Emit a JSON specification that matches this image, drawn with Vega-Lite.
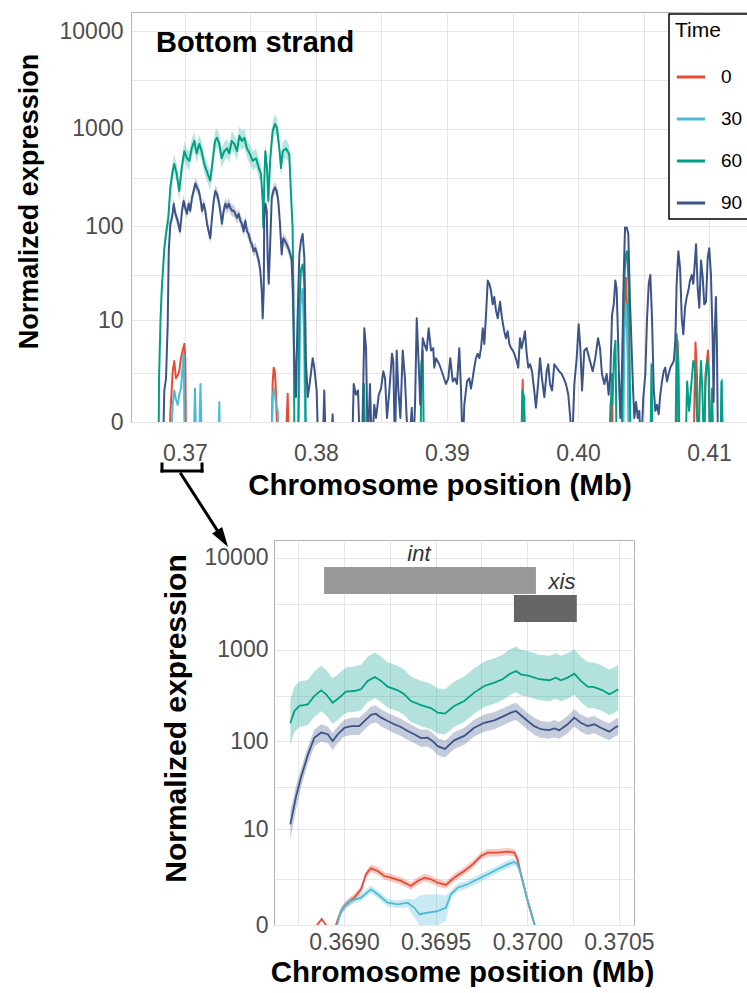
{
"$schema":"https://vega.github.io/schema/vega-lite/v6.json",
"background":"white",
"padding":{"left":14,"top":11,"right":0,"bottom":0},
"bounds":"flush",
"spacing":118,
"config":{
 "font":"Liberation Sans",
 "view":{"stroke":"#B3B3B3","strokeWidth":1},
 "axis":{"grid":true,"gridColor":"#E6E6E6","gridWidth":1,"domain":false,"ticks":false,"labelFont":"Liberation Sans","labelFontSize":23,"labelColor":"#4D4D4D","labelOverlap":false,"titleFont":"Liberation Sans","titleFontSize":29.5,"titleFontWeight":"bold","titleColor":"#000000"},
 "legend":{"strokeColor":"#000000","strokeWidth":1.5,"fillColor":"#FFFFFF","padding":6,"cornerRadius":0,"titleFont":"Liberation Sans","titleFontSize":21,"titleFontWeight":"normal","titleColor":"#000000","titlePadding":20,"labelFont":"Liberation Sans","labelFontSize":19,"labelColor":"#000000","labelOffset":14,"symbolType":"stroke","symbolStrokeWidth":3,"symbolSize":800,"symbolOpacity":1,"rowPadding":16}
},
"resolve":{"scale":{"x":"independent","y":"independent","color":"independent"},"legend":{"color":"independent"}},
"datasets":{
"top":[
{"p":0.36882,"t":"0","v":-1},{"p":0.36888,"t":"0","v":0.2},{"p":0.36906,"t":"0","v":2.3},{"p":0.36918,"t":"0","v":3.2},{"p":0.36931,"t":"0","v":1.8},{"p":0.36944,"t":"0","v":2},{"p":0.36956,"t":"0","v":2.3},{"p":0.36969,"t":"0","v":3.5},{"p":0.36982,"t":"0","v":4.4},{"p":0.36995,"t":"0","v":5.3},{"p":0.37002,"t":"0","v":3.5},{"p":0.37008,"t":"0","v":-1},
{"p":0.3766,"t":"0","v":-1},{"p":0.37669,"t":"0","v":1.5},{"p":0.37677,"t":"0","v":2.6},{"p":0.37686,"t":"0","v":2.3},{"p":0.37695,"t":"0","v":1},{"p":0.37708,"t":"0","v":-1},
{"p":0.37767,"t":"0","v":-1},{"p":0.37784,"t":"0","v":0.95},{"p":0.37794,"t":"0","v":-1},
{"p":0.39569,"t":"0","v":-1},{"p":0.39578,"t":"0","v":1.7},{"p":0.39584,"t":"0","v":-1},
{"p":0.40237,"t":"0","v":-1},{"p":0.40248,"t":"0","v":0.5},{"p":0.4026,"t":"0","v":0.9},{"p":0.40267,"t":"0","v":-1},
{"p":0.40332,"t":"0","v":-1},{"p":0.40355,"t":"0","v":15},{"p":0.40366,"t":"0","v":29},{"p":0.40378,"t":"0","v":10},{"p":0.40389,"t":"0","v":-1},
{"p":0.40752,"t":"0","v":-1},{"p":0.4076,"t":"0","v":5.8},{"p":0.40767,"t":"0","v":3},{"p":0.40775,"t":"0","v":-1},
{"p":0.40882,"t":"0","v":-1},{"p":0.40897,"t":"0","v":5.5},{"p":0.40908,"t":"0","v":2},{"p":0.4092,"t":"0","v":-1},
{"p":0.40962,"t":"0","v":-1},{"p":0.40973,"t":"0","v":2},{"p":0.40992,"t":"0","v":4.4},{"p":0.41,"t":"0","v":2},{"p":0.41008,"t":"0","v":-1},
{"p":0.36893,"t":"30","v":-1},{"p":0.36906,"t":"30","v":0.5},{"p":0.36918,"t":"30","v":1.1},{"p":0.36931,"t":"30","v":0.7},{"p":0.36944,"t":"30","v":0.5},{"p":0.36956,"t":"30","v":0.9},{"p":0.36969,"t":"30","v":1.2},{"p":0.3699,"t":"30","v":4},{"p":0.36998,"t":"30","v":-1},
{"p":0.37065,"t":"30","v":-1},{"p":0.37076,"t":"30","v":1.2},{"p":0.37088,"t":"30","v":-1},
{"p":0.37107,"t":"30","v":-1},{"p":0.37118,"t":"30","v":1.45},{"p":0.3713,"t":"30","v":-1},
{"p":0.37256,"t":"30","v":-1},{"p":0.37262,"t":"30","v":0.6},{"p":0.37267,"t":"30","v":-1},
{"p":0.3766,"t":"30","v":-1},{"p":0.37669,"t":"30","v":0.8},{"p":0.37682,"t":"30","v":1.2},{"p":0.37695,"t":"30","v":0.5},{"p":0.37708,"t":"30","v":0.3},{"p":0.37718,"t":"30","v":-1},
{"p":0.37863,"t":"30","v":-1},{"p":0.37882,"t":"30","v":15},{"p":0.37897,"t":"30","v":22},{"p":0.37908,"t":"30","v":8},{"p":0.3792,"t":"30","v":-1},
{"p":0.40344,"t":"30","v":-1},{"p":0.40355,"t":"30","v":8},{"p":0.40366,"t":"30","v":15},{"p":0.40378,"t":"30","v":5},{"p":0.40389,"t":"30","v":-1},
{"p":0.41088,"t":"30","v":-1},{"p":0.41099,"t":"30","v":1.7},{"p":0.41107,"t":"30","v":-1},
{"p":0.36798,"t":"60","v":-1},{"p":0.36802,"t":"60","v":1.8},{"p":0.36813,"t":"60","v":10,"lo":8,"hi":12.5},{"p":0.36822,"t":"60","v":21,"lo":17,"hi":26},{"p":0.36832,"t":"60","v":35,"lo":28,"hi":44},{"p":0.36842,"t":"60","v":59,"lo":47,"hi":74},{"p":0.36855,"t":"60","v":83,"lo":66,"hi":104},{"p":0.36873,"t":"60","v":122,"lo":98,"hi":152},{"p":0.36888,"t":"60","v":250,"lo":200,"hi":312},{"p":0.36906,"t":"60","v":370,"lo":296,"hi":462},{"p":0.36918,"t":"60","v":437,"lo":350,"hi":546},{"p":0.36937,"t":"60","v":346,"lo":277,"hi":432},{"p":0.36956,"t":"60","v":230,"lo":184,"hi":288},{"p":0.36975,"t":"60","v":397,"lo":318,"hi":496},{"p":0.36995,"t":"60","v":590,"lo":472,"hi":738},{"p":0.37015,"t":"60","v":500,"lo":400,"hi":625},{"p":0.37033,"t":"60","v":470,"lo":376,"hi":588},{"p":0.37051,"t":"60","v":630,"lo":504,"hi":788},{"p":0.37071,"t":"60","v":750,"lo":600,"hi":938},{"p":0.37089,"t":"60","v":560,"lo":448,"hi":700},{"p":0.37109,"t":"60","v":700,"lo":560,"hi":875},{"p":0.37127,"t":"60","v":590,"lo":472,"hi":738},{"p":0.37147,"t":"60","v":437,"lo":350,"hi":546},{"p":0.37173,"t":"60","v":346,"lo":277,"hi":432},{"p":0.37193,"t":"60","v":295,"lo":236,"hi":369},{"p":0.37211,"t":"60","v":470,"lo":376,"hi":588},{"p":0.37229,"t":"60","v":750,"lo":600,"hi":938},{"p":0.37244,"t":"60","v":810,"lo":648,"hi":1012},{"p":0.37262,"t":"60","v":700,"lo":560,"hi":875},{"p":0.3728,"t":"60","v":500,"lo":400,"hi":625},{"p":0.373,"t":"60","v":590,"lo":472,"hi":738},{"p":0.37321,"t":"60","v":630,"lo":504,"hi":788},{"p":0.37338,"t":"60","v":560,"lo":448,"hi":700},{"p":0.37356,"t":"60","v":750,"lo":600,"hi":938},{"p":0.37376,"t":"60","v":700,"lo":560,"hi":875},{"p":0.37397,"t":"60","v":590,"lo":472,"hi":738},{"p":0.37415,"t":"60","v":850,"lo":680,"hi":1062},{"p":0.37435,"t":"60","v":750,"lo":600,"hi":938},{"p":0.37453,"t":"60","v":810,"lo":648,"hi":1012},{"p":0.37473,"t":"60","v":630,"lo":504,"hi":788},{"p":0.37496,"t":"60","v":550,"lo":440,"hi":688},{"p":0.37517,"t":"60","v":470,"lo":376,"hi":588},{"p":0.37542,"t":"60","v":500,"lo":400,"hi":625},{"p":0.37563,"t":"60","v":397,"lo":318,"hi":496},{"p":0.3758,"t":"60","v":346,"lo":277,"hi":432},{"p":0.37593,"t":"60","v":182,"lo":146,"hi":228},{"p":0.37598,"t":"60","v":97,"lo":78,"hi":121},{"p":0.37605,"t":"60","v":275,"lo":220,"hi":344},{"p":0.37613,"t":"60","v":590,"lo":472,"hi":738},{"p":0.37626,"t":"60","v":397,"lo":318,"hi":496},{"p":0.37636,"t":"60","v":182,"lo":146,"hi":228},{"p":0.37651,"t":"60","v":500,"lo":400,"hi":625},{"p":0.37669,"t":"60","v":950,"lo":760,"hi":1188},{"p":0.37687,"t":"60","v":1120,"lo":896,"hi":1400},{"p":0.37702,"t":"60","v":1020,"lo":816,"hi":1275},{"p":0.3772,"t":"60","v":630,"lo":504,"hi":788},{"p":0.37733,"t":"60","v":397,"lo":318,"hi":496},{"p":0.37746,"t":"60","v":590,"lo":472,"hi":738},{"p":0.37771,"t":"60","v":630,"lo":504,"hi":788},{"p":0.37796,"t":"60","v":550,"lo":440,"hi":688},{"p":0.37809,"t":"60","v":215,"lo":172,"hi":269},{"p":0.37821,"t":"60","v":100},{"p":0.37828,"t":"60","v":20},{"p":0.37836,"t":"60","v":-1},{"p":0.37863,"t":"60","v":-1},{"p":0.37873,"t":"60","v":15},{"p":0.37885,"t":"60","v":35},{"p":0.37898,"t":"60","v":40},{"p":0.37911,"t":"60","v":25},{"p":0.37924,"t":"60","v":-1},
{"p":0.38355,"t":"60","v":-1},{"p":0.38366,"t":"60","v":1.45},{"p":0.38378,"t":"60","v":-1},
{"p":0.38798,"t":"60","v":-1},{"p":0.38805,"t":"60","v":3},{"p":0.38815,"t":"60","v":4.4},{"p":0.38824,"t":"60","v":-1},
{"p":0.39565,"t":"60","v":-1},{"p":0.39576,"t":"60","v":1.1},{"p":0.39588,"t":"60","v":0.8},{"p":0.39599,"t":"60","v":-1},
{"p":0.40248,"t":"60","v":-1},{"p":0.40256,"t":"60","v":2.1},{"p":0.40263,"t":"60","v":0.5},{"p":0.40275,"t":"60","v":4},{"p":0.40286,"t":"60","v":5.8},{"p":0.40295,"t":"60","v":-1},
{"p":0.40332,"t":"60","v":-1},{"p":0.40349,"t":"60","v":20},{"p":0.40363,"t":"60","v":50},{"p":0.40374,"t":"60","v":55},{"p":0.40389,"t":"60","v":20},{"p":0.40401,"t":"60","v":-1},
{"p":0.40553,"t":"60","v":-1},{"p":0.40561,"t":"60","v":2.9},{"p":0.4057,"t":"60","v":-1},
{"p":0.40744,"t":"60","v":-1},{"p":0.40753,"t":"60","v":6.9},{"p":0.40763,"t":"60","v":3},{"p":0.40771,"t":"60","v":-1},
{"p":0.40821,"t":"60","v":-1},{"p":0.40833,"t":"60","v":1.6},{"p":0.40848,"t":"60","v":0.3},{"p":0.40866,"t":"60","v":1.5},{"p":0.4088,"t":"60","v":3.2},{"p":0.40893,"t":"60","v":2.5},{"p":0.40905,"t":"60","v":0.5},{"p":0.4092,"t":"60","v":-1},{"p":0.40931,"t":"60","v":1.5},{"p":0.40939,"t":"60","v":3.2},{"p":0.4095,"t":"60","v":1},{"p":0.40962,"t":"60","v":-1},{"p":0.40973,"t":"60","v":1.5},{"p":0.40985,"t":"60","v":3.2},{"p":0.40996,"t":"60","v":2.5},{"p":0.41008,"t":"60","v":-1},{"p":0.41023,"t":"60","v":1.2},{"p":0.41034,"t":"60","v":-1},
{"p":0.41088,"t":"60","v":-1},{"p":0.41095,"t":"60","v":1.6},{"p":0.41105,"t":"60","v":-1},
{"p":0.36832,"t":"90","v":-1},{"p":0.36842,"t":"90","v":1.1},{"p":0.36855,"t":"90","v":1.8},{"p":0.36868,"t":"90","v":9},{"p":0.36876,"t":"90","v":55,"lo":48,"hi":63},{"p":0.36888,"t":"90","v":106,"lo":92,"hi":122},{"p":0.36901,"t":"90","v":122,"lo":106,"hi":140},{"p":0.36914,"t":"90","v":170,"lo":148,"hi":196},{"p":0.36926,"t":"90","v":134,"lo":117,"hi":154},{"p":0.36944,"t":"90","v":114,"lo":99,"hi":131},{"p":0.36962,"t":"90","v":88,"lo":77,"hi":101},{"p":0.36977,"t":"90","v":144,"lo":125,"hi":166},{"p":0.3699,"t":"90","v":182,"lo":158,"hi":209},{"p":0.37002,"t":"90","v":154,"lo":134,"hi":177},{"p":0.37015,"t":"90","v":134,"lo":117,"hi":154},{"p":0.37028,"t":"90","v":170,"lo":148,"hi":196},{"p":0.3704,"t":"90","v":144,"lo":125,"hi":166},{"p":0.37053,"t":"90","v":195,"lo":170,"hi":224},{"p":0.37066,"t":"90","v":230,"lo":200,"hi":264},{"p":0.37079,"t":"90","v":275,"lo":239,"hi":316},{"p":0.37092,"t":"90","v":250,"lo":218,"hi":288},{"p":0.37105,"t":"90","v":230,"lo":200,"hi":264},{"p":0.37117,"t":"90","v":195,"lo":170,"hi":224},{"p":0.3713,"t":"90","v":144,"lo":125,"hi":166},{"p":0.37143,"t":"90","v":170,"lo":148,"hi":196},{"p":0.37155,"t":"90","v":144,"lo":125,"hi":166},{"p":0.37168,"t":"90","v":106,"lo":92,"hi":122},{"p":0.37181,"t":"90","v":88,"lo":77,"hi":101},{"p":0.37193,"t":"90","v":75,"lo":65,"hi":86},{"p":0.37206,"t":"90","v":122,"lo":106,"hi":140},{"p":0.37219,"t":"90","v":182,"lo":158,"hi":209},{"p":0.37231,"t":"90","v":230,"lo":200,"hi":264},{"p":0.37244,"t":"90","v":215,"lo":187,"hi":247},{"p":0.37257,"t":"90","v":182,"lo":158,"hi":209},{"p":0.37269,"t":"90","v":144,"lo":125,"hi":166},{"p":0.37282,"t":"90","v":106,"lo":92,"hi":122},{"p":0.37295,"t":"90","v":144,"lo":125,"hi":166},{"p":0.37308,"t":"90","v":170,"lo":148,"hi":196},{"p":0.37321,"t":"90","v":154,"lo":134,"hi":177},{"p":0.37334,"t":"90","v":170,"lo":148,"hi":196},{"p":0.37346,"t":"90","v":154,"lo":134,"hi":177},{"p":0.37359,"t":"90","v":144,"lo":125,"hi":166},{"p":0.37372,"t":"90","v":144,"lo":125,"hi":166},{"p":0.37384,"t":"90","v":134,"lo":117,"hi":154},{"p":0.37397,"t":"90","v":122,"lo":106,"hi":140},{"p":0.3741,"t":"90","v":134,"lo":117,"hi":154},{"p":0.37422,"t":"90","v":114,"lo":99,"hi":131},{"p":0.37435,"t":"90","v":106,"lo":92,"hi":122},{"p":0.37448,"t":"90","v":88,"lo":77,"hi":101},{"p":0.3746,"t":"90","v":114,"lo":99,"hi":131},{"p":0.37473,"t":"90","v":88,"lo":77,"hi":101},{"p":0.37486,"t":"90","v":83,"lo":72,"hi":95},{"p":0.37498,"t":"90","v":70,"lo":61,"hi":80},{"p":0.37511,"t":"90","v":65,"lo":57,"hi":75},{"p":0.37524,"t":"90","v":55,"lo":48,"hi":63},{"p":0.37537,"t":"90","v":59,"lo":51,"hi":68},{"p":0.3755,"t":"90","v":51,"lo":44,"hi":59},{"p":0.37563,"t":"90","v":44,"lo":38,"hi":51},{"p":0.37575,"t":"90","v":34,"lo":30,"hi":39},{"p":0.37586,"t":"90","v":21,"lo":18,"hi":24},{"p":0.37593,"t":"90","v":10.5,"lo":9,"hi":12},{"p":0.37601,"t":"90","v":21,"lo":18,"hi":24},{"p":0.37605,"t":"90","v":122,"lo":106,"hi":140},{"p":0.37613,"t":"90","v":170,"lo":148,"hi":196},{"p":0.37624,"t":"90","v":144,"lo":125,"hi":166},{"p":0.37631,"t":"90","v":47,"lo":41,"hi":54},{"p":0.37639,"t":"90","v":25,"lo":22,"hi":29},{"p":0.37651,"t":"90","v":70,"lo":61,"hi":80},{"p":0.37662,"t":"90","v":195,"lo":170,"hi":224},{"p":0.37674,"t":"90","v":230,"lo":200,"hi":264},{"p":0.37687,"t":"90","v":250,"lo":218,"hi":288},{"p":0.377,"t":"90","v":230,"lo":200,"hi":264},{"p":0.37712,"t":"90","v":182,"lo":158,"hi":209},{"p":0.37725,"t":"90","v":106,"lo":92,"hi":122},{"p":0.37738,"t":"90","v":51,"lo":44,"hi":59},{"p":0.3775,"t":"90","v":75,"lo":65,"hi":86},{"p":0.37763,"t":"90","v":70,"lo":61,"hi":80},{"p":0.37776,"t":"90","v":65,"lo":57,"hi":75},{"p":0.37789,"t":"90","v":59,"lo":51,"hi":68},{"p":0.37804,"t":"90","v":51,"lo":44,"hi":59},{"p":0.37813,"t":"90","v":45,"lo":39,"hi":52},{"p":0.37822,"t":"90","v":22},{"p":0.37832,"t":"90","v":5},{"p":0.37847,"t":"90","v":0.8},{"p":0.37859,"t":"90","v":10},{"p":0.37873,"t":"90","v":51},{"p":0.37885,"t":"90","v":70},{"p":0.37898,"t":"90","v":83},{"p":0.37911,"t":"90","v":47},{"p":0.37924,"t":"90","v":2.9},{"p":0.37937,"t":"90","v":0.8},{"p":0.37954,"t":"90","v":1.6},{"p":0.37975,"t":"90","v":3.5},{"p":0.37987,"t":"90","v":2.6},{"p":0.38005,"t":"90","v":1.1},{"p":0.38018,"t":"90","v":-1},{"p":0.38051,"t":"90","v":-1},{"p":0.38063,"t":"90","v":1.1},{"p":0.38076,"t":"90","v":-1},{"p":0.38115,"t":"90","v":-1},{"p":0.38127,"t":"90","v":0.2},{"p":0.38137,"t":"90","v":-1},{"p":0.38275,"t":"90","v":-1},{"p":0.38288,"t":"90","v":1.45},{"p":0.38305,"t":"90","v":0.9},{"p":0.38321,"t":"90","v":1.1},{"p":0.38336,"t":"90","v":-1},{"p":0.38351,"t":"90","v":-1},{"p":0.38369,"t":"90","v":8.1},{"p":0.38382,"t":"90","v":4.7},{"p":0.38395,"t":"90","v":-1},{"p":0.38412,"t":"90","v":1.45},{"p":0.38427,"t":"90","v":-1},{"p":0.38445,"t":"90","v":0.5},{"p":0.38458,"t":"90","v":0.1},{"p":0.38479,"t":"90","v":0.9},{"p":0.38496,"t":"90","v":1.2},{"p":0.38514,"t":"90","v":2.3},{"p":0.38527,"t":"90","v":1.8},{"p":0.38542,"t":"90","v":0.1},{"p":0.3856,"t":"90","v":1.1},{"p":0.3858,"t":"90","v":4},{"p":0.3859,"t":"90","v":3.2},{"p":0.38603,"t":"90","v":-1},{"p":0.38616,"t":"90","v":4.4},{"p":0.38628,"t":"90","v":1.2},{"p":0.38644,"t":"90","v":0.1},{"p":0.38662,"t":"90","v":4.4},{"p":0.38679,"t":"90","v":1.8},{"p":0.38692,"t":"90","v":0.1},{"p":0.3871,"t":"90","v":-1},{"p":0.38731,"t":"90","v":0.4},{"p":0.38743,"t":"90","v":-1},{"p":0.38756,"t":"90","v":0.5},{"p":0.38769,"t":"90","v":10.5},{"p":0.38784,"t":"90","v":2.9},{"p":0.38796,"t":"90","v":0.5},{"p":0.38815,"t":"90","v":6.2},{"p":0.38827,"t":"90","v":5.3},{"p":0.38845,"t":"90","v":4.4},{"p":0.3886,"t":"90","v":8.1},{"p":0.38878,"t":"90","v":4.4},{"p":0.38895,"t":"90","v":4.7},{"p":0.38903,"t":"90","v":2.6},{"p":0.38916,"t":"90","v":3.5},{"p":0.38941,"t":"90","v":2.9},{"p":0.38967,"t":"90","v":2.1},{"p":0.38992,"t":"90","v":1.45},{"p":0.3901,"t":"90","v":1.8},{"p":0.39025,"t":"90","v":3.5},{"p":0.39044,"t":"90","v":1.6},{"p":0.39061,"t":"90","v":1.8},{"p":0.39076,"t":"90","v":1.45},{"p":0.39094,"t":"90","v":4.7},{"p":0.39107,"t":"90","v":1.1},{"p":0.3912,"t":"90","v":-1},{"p":0.39132,"t":"90","v":0.5},{"p":0.39153,"t":"90","v":1.6},{"p":0.3917,"t":"90","v":1.8},{"p":0.39183,"t":"90","v":1.2},{"p":0.39196,"t":"90","v":1.8},{"p":0.39208,"t":"90","v":2.6},{"p":0.39221,"t":"90","v":3.5},{"p":0.39234,"t":"90","v":4},{"p":0.39247,"t":"90","v":3.5},{"p":0.3926,"t":"90","v":4.7},{"p":0.39273,"t":"90","v":8.1},{"p":0.39285,"t":"90","v":5.3},{"p":0.39298,"t":"90","v":11.6},{"p":0.39311,"t":"90","v":27},{"p":0.39323,"t":"90","v":25},{"p":0.39336,"t":"90","v":21},{"p":0.39349,"t":"90","v":15},{"p":0.39361,"t":"90","v":18},{"p":0.39374,"t":"90","v":12.8},{"p":0.39387,"t":"90","v":10.5},{"p":0.39405,"t":"90","v":16},{"p":0.3942,"t":"90","v":10.5},{"p":0.39437,"t":"90","v":7.5},{"p":0.3945,"t":"90","v":6.2},{"p":0.39463,"t":"90","v":7.5},{"p":0.39476,"t":"90","v":5.3},{"p":0.39489,"t":"90","v":4.7},{"p":0.39502,"t":"90","v":4.4},{"p":0.39514,"t":"90","v":4},{"p":0.39532,"t":"90","v":3.2},{"p":0.39544,"t":"90","v":2.6},{"p":0.39557,"t":"90","v":6.2},{"p":0.3957,"t":"90","v":4.7},{"p":0.39582,"t":"90","v":5.8},{"p":0.39595,"t":"90","v":7.5},{"p":0.39608,"t":"90","v":4},{"p":0.39621,"t":"90","v":2.6},{"p":0.39634,"t":"90","v":2.9},{"p":0.39649,"t":"90","v":2.3},{"p":0.39666,"t":"90","v":1.1},{"p":0.39679,"t":"90","v":0.4},{"p":0.39697,"t":"90","v":1.6},{"p":0.3971,"t":"90","v":3.5},{"p":0.39725,"t":"90","v":1.8},{"p":0.39743,"t":"90","v":0.8},{"p":0.39761,"t":"90","v":2.3},{"p":0.39773,"t":"90","v":2.9},{"p":0.39786,"t":"90","v":1.45},{"p":0.39802,"t":"90","v":1.1},{"p":0.39819,"t":"90","v":2.9},{"p":0.39837,"t":"90","v":2.6},{"p":0.39857,"t":"90","v":2.3},{"p":0.39876,"t":"90","v":2.1},{"p":0.39891,"t":"90","v":1.8},{"p":0.39908,"t":"90","v":1.45},{"p":0.39926,"t":"90","v":0.9},{"p":0.39941,"t":"90","v":0.1},{"p":0.39954,"t":"90","v":-1},{"p":0.39972,"t":"90","v":1.45},{"p":0.3999,"t":"90","v":3.5},{"p":0.40005,"t":"90","v":9},{"p":0.40018,"t":"90","v":4.7},{"p":0.40031,"t":"90","v":1.1},{"p":0.40048,"t":"90","v":4.4},{"p":0.40066,"t":"90","v":4.7},{"p":0.40086,"t":"90","v":3.5},{"p":0.40112,"t":"90","v":2.3},{"p":0.40132,"t":"90","v":3.5},{"p":0.40153,"t":"90","v":6.2},{"p":0.40168,"t":"90","v":4.7},{"p":0.40183,"t":"90","v":2.1},{"p":0.40201,"t":"90","v":1.45},{"p":0.40219,"t":"90","v":2.1},{"p":0.40234,"t":"90","v":0.9},{"p":0.40247,"t":"90","v":2.1},{"p":0.4026,"t":"90","v":11.6},{"p":0.40273,"t":"90","v":15},{"p":0.40285,"t":"90","v":27},{"p":0.40295,"t":"90","v":22},{"p":0.40305,"t":"90","v":6.9},{"p":0.40315,"t":"90","v":1.2},{"p":0.40323,"t":"90","v":0.1},{"p":0.40336,"t":"90","v":2.6},{"p":0.40349,"t":"90","v":31},{"p":0.40359,"t":"90","v":97},{"p":0.40372,"t":"90","v":97},{"p":0.40384,"t":"90","v":83},{"p":0.40397,"t":"90","v":16},{"p":0.4041,"t":"90","v":4.4},{"p":0.4042,"t":"90","v":1.2},{"p":0.4043,"t":"90","v":0.1},{"p":0.40443,"t":"90","v":0.6},{"p":0.40456,"t":"90","v":0.1},{"p":0.40468,"t":"90","v":0.3},{"p":0.40481,"t":"90","v":-1},{"p":0.40499,"t":"90","v":0.8},{"p":0.40514,"t":"90","v":2.1},{"p":0.40527,"t":"90","v":10.5},{"p":0.4054,"t":"90","v":25},{"p":0.40552,"t":"90","v":31},{"p":0.40565,"t":"90","v":10.5},{"p":0.40578,"t":"90","v":1.2},{"p":0.4059,"t":"90","v":0.3},{"p":0.40603,"t":"90","v":0.5},{"p":0.40616,"t":"90","v":0.2},{"p":0.40628,"t":"90","v":0.9},{"p":0.40641,"t":"90","v":1.6},{"p":0.40654,"t":"90","v":2.3},{"p":0.40666,"t":"90","v":2.6},{"p":0.40679,"t":"90","v":1.6},{"p":0.40692,"t":"90","v":2.1},{"p":0.40705,"t":"90","v":2.6},{"p":0.40718,"t":"90","v":2.9},{"p":0.40731,"t":"90","v":3.2},{"p":0.40743,"t":"90","v":5.8},{"p":0.40753,"t":"90","v":25},{"p":0.40766,"t":"90","v":55},{"p":0.40779,"t":"90","v":37},{"p":0.40792,"t":"90","v":10.5},{"p":0.40804,"t":"90","v":6.9},{"p":0.40817,"t":"90","v":13.8},{"p":0.4083,"t":"90","v":18},{"p":0.40842,"t":"90","v":21},{"p":0.40855,"t":"90","v":27},{"p":0.40868,"t":"90","v":31},{"p":0.4088,"t":"90","v":25},{"p":0.40893,"t":"90","v":44},{"p":0.40901,"t":"90","v":65},{"p":0.40914,"t":"90","v":22},{"p":0.40926,"t":"90","v":13.8},{"p":0.40939,"t":"90","v":44},{"p":0.40952,"t":"90","v":29},{"p":0.40964,"t":"90","v":15},{"p":0.40977,"t":"90","v":16},{"p":0.4099,"t":"90","v":47},{"p":0.41002,"t":"90","v":59},{"p":0.41015,"t":"90","v":31},{"p":0.41028,"t":"90","v":5.8},{"p":0.41035,"t":"90","v":0.6},{"p":0.41043,"t":"90","v":6.9},{"p":0.41053,"t":"90","v":18},{"p":0.41061,"t":"90","v":4.4},{"p":0.41069,"t":"90","v":-1}
],
"bot":[
{"p":0.368842,"t":"0","v":-1},{"p":0.368853,"t":"0","v":0},{"p":0.368878,"t":"0","v":0.16},{"p":0.368902,"t":"0","v":0},{"p":0.368913,"t":"0","v":-1},{"p":0.368945,"t":"0","v":-1},
{"p":0.368956,"t":"0","v":0,"lo":0,"hi":0.1},{"p":0.368984,"t":"0","v":0.42,"lo":0.29,"hi":0.56},{"p":0.369011,"t":"0","v":0.68,"lo":0.53,"hi":0.85},{"p":0.369056,"t":"0","v":0.99,"lo":0.81,"hi":1.19},{"p":0.369093,"t":"0","v":1.45,"lo":1.23,"hi":1.7},{"p":0.36912,"t":"0","v":2.57,"lo":2.25,"hi":2.93},{"p":0.369147,"t":"0","v":3.15,"lo":2.77,"hi":3.57},{"p":0.369184,"t":"0","v":2.88,"lo":2.53,"hi":3.27},{"p":0.36922,"t":"0","v":2.42,"lo":2.11,"hi":2.76},{"p":0.369256,"t":"0","v":2.28,"lo":1.98,"hi":2.61},{"p":0.369311,"t":"0","v":2.02,"lo":1.75,"hi":2.32},{"p":0.369365,"t":"0","v":1.66,"lo":1.42,"hi":1.93},{"p":0.369402,"t":"0","v":2.02,"lo":1.75,"hi":2.32},{"p":0.369438,"t":"0","v":2.28,"lo":1.98,"hi":2.61},{"p":0.369474,"t":"0","v":2.15,"lo":1.86,"hi":2.47},{"p":0.369511,"t":"0","v":1.89,"lo":1.63,"hi":2.18},{"p":0.369556,"t":"0","v":1.73,"lo":1.48,"hi":2},{"p":0.369601,"t":"0","v":2.28,"lo":1.98,"hi":2.61},{"p":0.369656,"t":"0","v":2.88,"lo":2.53,"hi":3.27},{"p":0.369702,"t":"0","v":3.58,"lo":3.16,"hi":4.04},{"p":0.369747,"t":"0","v":4.65,"lo":4.14,"hi":5.22},{"p":0.369784,"t":"0","v":5.14,"lo":4.58,"hi":5.75},{"p":0.369838,"t":"0","v":5.14,"lo":4.58,"hi":5.75},{"p":0.369893,"t":"0","v":5.3,"lo":4.73,"hi":5.93},{"p":0.369929,"t":"0","v":5.14,"lo":4.58,"hi":5.75},{"p":0.369947,"t":"0","v":4.2,"lo":3.73,"hi":4.72},{"p":0.369965,"t":"0","v":2.57,"lo":2.25,"hi":2.93},{"p":0.370002,"t":"0","v":0.83,"lo":0.66,"hi":1.01},{"p":0.370029,"t":"0","v":0.2,"lo":0.09,"hi":0.32},{"p":0.370082,"t":"0","v":-1},
{"p":0.368945,"t":"30","v":-1},{"p":0.368962,"t":"30","v":0,"lo":0,"hi":0.1},{"p":0.368984,"t":"30","v":0.42,"lo":0.29,"hi":0.56},{"p":0.369011,"t":"30","v":0.65,"lo":0.5,"hi":0.82},{"p":0.369038,"t":"30","v":0.83,"lo":0.66,"hi":1.01},{"p":0.369093,"t":"30","v":0.99,"lo":0.81,"hi":1.19},{"p":0.369147,"t":"30","v":1.45,"lo":1.23,"hi":1.7},{"p":0.369184,"t":"30","v":1.16,"lo":0.96,"hi":1.38},{"p":0.369238,"t":"30","v":0.75,"lo":0.59,"hi":0.93},{"p":0.369293,"t":"30","v":0.68,"lo":0.53,"hi":0.85},{"p":0.369347,"t":"30","v":0.75,"lo":0.55,"hi":0.95},{"p":0.369383,"t":"30","v":0.55,"lo":0.2,"hi":0.9},{"p":0.369411,"t":"30","v":0.31,"lo":0,"hi":1.1},{"p":0.369456,"t":"30","v":0.36,"lo":0,"hi":1.16},{"p":0.369511,"t":"30","v":0.42,"lo":0,"hi":1.16},{"p":0.369556,"t":"30","v":0.55,"lo":0.1,"hi":1.1},{"p":0.369583,"t":"30","v":1.16,"lo":0.96,"hi":1.38},{"p":0.36962,"t":"30","v":1.55,"lo":1.32,"hi":1.81},{"p":0.369674,"t":"30","v":1.78,"lo":1.53,"hi":2.06},{"p":0.369729,"t":"30","v":2.15,"lo":1.86,"hi":2.47},{"p":0.369784,"t":"30","v":2.57,"lo":2.25,"hi":2.93},{"p":0.369838,"t":"30","v":3.05,"lo":2.68,"hi":3.46},{"p":0.369893,"t":"30","v":3.58,"lo":3.16,"hi":4.04},{"p":0.369929,"t":"30","v":3.86,"lo":3.42,"hi":4.35},{"p":0.369947,"t":"30","v":3.58,"lo":3.16,"hi":4.04},{"p":0.369965,"t":"30","v":2.57,"lo":2.25,"hi":2.93},{"p":0.370002,"t":"30","v":0.83,"lo":0.66,"hi":1.01},{"p":0.370029,"t":"30","v":0.2,"lo":0.09,"hi":0.32},{"p":0.370082,"t":"30","v":-1},
{"p":0.368707,"t":"60","v":157,"lo":92,"hi":290},{"p":0.368729,"t":"60","v":213,"lo":125,"hi":395},{"p":0.368756,"t":"60","v":243,"lo":143,"hi":450},{"p":0.368802,"t":"60","v":253,"lo":149,"hi":468},{"p":0.368838,"t":"60","v":312,"lo":184,"hi":577},{"p":0.368875,"t":"60","v":360,"lo":212,"hi":666},{"p":0.368902,"t":"60","v":326,"lo":192,"hi":603},{"p":0.368938,"t":"60","v":264,"lo":155,"hi":488},{"p":0.368974,"t":"60","v":299,"lo":176,"hi":553},{"p":0.369011,"t":"60","v":348,"lo":205,"hi":644},{"p":0.369056,"t":"60","v":354,"lo":208,"hi":655},{"p":0.369093,"t":"60","v":370,"lo":218,"hi":685},{"p":0.369129,"t":"60","v":456,"lo":268,"hi":844},{"p":0.369169,"t":"60","v":504,"lo":296,"hi":932},{"p":0.369202,"t":"60","v":456,"lo":268,"hi":844},{"p":0.369238,"t":"60","v":395,"lo":232,"hi":731},{"p":0.369293,"t":"60","v":360,"lo":212,"hi":666},{"p":0.369329,"t":"60","v":326,"lo":192,"hi":603},{"p":0.369365,"t":"60","v":275,"lo":162,"hi":509},{"p":0.36942,"t":"60","v":248,"lo":146,"hi":459},{"p":0.369474,"t":"60","v":230,"lo":135,"hi":426},{"p":0.369511,"t":"60","v":205,"lo":121,"hi":379},{"p":0.369551,"t":"60","v":200,"lo":118,"hi":370},{"p":0.369601,"t":"60","v":243,"lo":143,"hi":450},{"p":0.369656,"t":"60","v":275,"lo":162,"hi":509},{"p":0.36971,"t":"60","v":340,"lo":200,"hi":629},{"p":0.369765,"t":"60","v":402,"lo":236,"hi":744},{"p":0.36982,"t":"60","v":437,"lo":257,"hi":808},{"p":0.369865,"t":"60","v":476,"lo":280,"hi":881},{"p":0.369901,"t":"60","v":539,"lo":317,"hi":997},{"p":0.369938,"t":"60","v":586,"lo":345,"hi":1084},{"p":0.369965,"t":"60","v":539,"lo":317,"hi":997},{"p":0.37001,"t":"60","v":517,"lo":304,"hi":956},{"p":0.370065,"t":"60","v":476,"lo":280,"hi":881},{"p":0.370119,"t":"60","v":464,"lo":273,"hi":858},{"p":0.370156,"t":"60","v":495,"lo":291,"hi":916},{"p":0.370183,"t":"60","v":464,"lo":273,"hi":858},{"p":0.37022,"t":"60","v":495,"lo":291,"hi":916},{"p":0.370256,"t":"60","v":548,"lo":322,"hi":1014},{"p":0.370292,"t":"60","v":456,"lo":268,"hi":844},{"p":0.370329,"t":"60","v":395,"lo":232,"hi":731},{"p":0.370365,"t":"60","v":391,"lo":230,"hi":723},{"p":0.370411,"t":"60","v":360,"lo":212,"hi":666},{"p":0.370447,"t":"60","v":326,"lo":192,"hi":603},{"p":0.370474,"t":"60","v":348,"lo":205,"hi":644},{"p":0.370496,"t":"60","v":370,"lo":218,"hi":685},
{"p":0.368707,"t":"90","v":11.5,"lo":7.5,"hi":16.5},{"p":0.368738,"t":"90","v":24,"lo":17,"hi":32},{"p":0.368766,"t":"90","v":40,"lo":31,"hi":50},{"p":0.368802,"t":"90","v":70,"lo":56,"hi":86},{"p":0.368838,"t":"90","v":109,"lo":87,"hi":134},{"p":0.368875,"t":"90","v":124,"lo":99,"hi":153},{"p":0.368911,"t":"90","v":119,"lo":95,"hi":146},{"p":0.368938,"t":"90","v":100,"lo":80,"hi":123},{"p":0.368966,"t":"90","v":119,"lo":95,"hi":146},{"p":0.369002,"t":"90","v":140,"lo":112,"hi":172},{"p":0.369038,"t":"90","v":146,"lo":117,"hi":180},{"p":0.369083,"t":"90","v":146,"lo":117,"hi":180},{"p":0.369111,"t":"90","v":166,"lo":133,"hi":204},{"p":0.369147,"t":"90","v":194,"lo":155,"hi":239},{"p":0.369174,"t":"90","v":200,"lo":160,"hi":246},{"p":0.369202,"t":"90","v":181,"lo":145,"hi":223},{"p":0.369238,"t":"90","v":166,"lo":133,"hi":204},{"p":0.369274,"t":"90","v":153,"lo":122,"hi":188},{"p":0.369311,"t":"90","v":143,"lo":114,"hi":176},{"p":0.369347,"t":"90","v":129,"lo":103,"hi":159},{"p":0.369383,"t":"90","v":119,"lo":95,"hi":146},{"p":0.36942,"t":"90","v":108,"lo":86,"hi":133},{"p":0.369456,"t":"90","v":109,"lo":87,"hi":134},{"p":0.369484,"t":"90","v":100,"lo":80,"hi":123},{"p":0.369511,"t":"90","v":88,"lo":70,"hi":108},{"p":0.369551,"t":"90","v":82,"lo":66,"hi":101},{"p":0.369601,"t":"90","v":102,"lo":82,"hi":125},{"p":0.369656,"t":"90","v":114,"lo":91,"hi":140},{"p":0.36971,"t":"90","v":140,"lo":112,"hi":172},{"p":0.369765,"t":"90","v":159,"lo":127,"hi":196},{"p":0.36982,"t":"90","v":169,"lo":135,"hi":208},{"p":0.369874,"t":"90","v":189,"lo":151,"hi":232},{"p":0.369911,"t":"90","v":205,"lo":164,"hi":252},{"p":0.369938,"t":"90","v":214,"lo":171,"hi":263},{"p":0.369965,"t":"90","v":192,"lo":154,"hi":236},{"p":0.370002,"t":"90","v":166,"lo":133,"hi":204},{"p":0.370038,"t":"90","v":146,"lo":117,"hi":180},{"p":0.370074,"t":"90","v":135,"lo":108,"hi":166},{"p":0.370119,"t":"90","v":132,"lo":106,"hi":162},{"p":0.370147,"t":"90","v":138,"lo":110,"hi":170},{"p":0.370174,"t":"90","v":132,"lo":106,"hi":162},{"p":0.37022,"t":"90","v":153,"lo":122,"hi":188},{"p":0.370256,"t":"90","v":181,"lo":145,"hi":223},{"p":0.370292,"t":"90","v":159,"lo":127,"hi":196},{"p":0.370329,"t":"90","v":146,"lo":117,"hi":180},{"p":0.370365,"t":"90","v":153,"lo":122,"hi":188},{"p":0.370401,"t":"90","v":140,"lo":112,"hi":172},{"p":0.370447,"t":"90","v":127,"lo":102,"hi":156},{"p":0.370483,"t":"90","v":143,"lo":114,"hi":176},{"p":0.370496,"t":"90","v":146,"lo":117,"hi":180}
],
"genes":[
{"gene":"int","s":0.368891,"e":0.370047,"lo":4055,"hi":7980,"lx":0.369409,"ly":11060},
{"gene":"xis","s":0.369927,"e":0.37027,"lo":2005,"hi":3953,"lx":0.370189,"ly":5470}
],
"ann":[
{"x1":0.368244,"x2":0.371298,"y1":-2.173,"y2":-2.173},
{"x1":0.368244,"x2":0.368244,"y1":-1.69,"y2":-2.173},
{"x1":0.371298,"x2":0.371298,"y1":-1.69,"y2":-2.173},
{"x1":0.369695,"x2":0.37287,"y1":-2.404,"y2":-14.6}
]
},
"vconcat":[
{
 "width":617,"height":410,
 "layer":[
  {"data":{"name":"top"},"transform":[{"filter":"isValid(datum.lo)"}],"mark":{"type":"area","clip":true,"opacity":0.28},
   "encoding":{
    "x":{"field":"p","type":"quantitative","title":"Chromosome position (Mb)","scale":{"domain":[0.365878,0.412977],"nice":false,"zero":false},"axis":{"values":[0.37,0.375,0.38,0.385,0.39,0.395,0.4,0.405,0.41],"labelExpr":"round(datum.value*1000) % 10 == 0 ? format(datum.value, '.2f') : ''","labelPadding":20,"titlePadding":6}},
    "y":{"field":"lo","type":"quantitative","title":"Normalized expression","scale":{"type":"symlog","domain":[0,15700],"nice":false,"zero":false},"axis":{"values":[0,2.16,10,30.6,100,315,1000,3161,10000],"labelExpr":"indexof([0,10,100,1000,10000], datum.value) >= 0 ? format(datum.value, 'd') : ''","labelPadding":8,"titlePadding":16,"titleY":189,"titleFontSize":27}},
    "y2":{"field":"hi"},
    "color":{"field":"t","type":"nominal","scale":{"domain":["0","30","60","90"],"range":["#E64B35","#4DBBD5","#00A087","#3C5488"]},"legend":{"title":"Time","orient":"none","legendX":538,"legendY":2,"direction":"vertical","symbolType":"stroke","symbolOpacity":1,"symbolStrokeWidth":3}}
   }},
  {"data":{"name":"top"},"mark":{"type":"line","clip":true,"strokeWidth":2,"strokeJoin":"round"},
   "encoding":{
    "x":{"field":"p","type":"quantitative","title":"Chromosome position (Mb)"},
    "y":{"field":"v","type":"quantitative","title":"Normalized expression"},
    "color":{"field":"t","type":"nominal"}
   }},
  {"data":{"values":[{"lab":"Bottom strand","x":0.36779,"y":7570}]},"mark":{"type":"text","align":"left","baseline":"middle","fontSize":29,"fontWeight":"bold","font":"Liberation Sans","color":"#000000"},
   "encoding":{"x":{"field":"x","type":"quantitative","title":"Chromosome position (Mb)"},"y":{"field":"y","type":"quantitative","title":"Normalized expression"},"text":{"field":"lab"}}},
  {"data":{"name":"ann"},"mark":{"type":"rule","color":"#000000","strokeWidth":3,"strokeCap":"square"},
   "encoding":{"x":{"field":"x1","type":"quantitative","title":"Chromosome position (Mb)"},"x2":{"field":"x2"},"y":{"field":"y1","type":"quantitative","title":"Normalized expression"},"y2":{"field":"y2"}}},
  {"data":{"values":[{"x":0.37287,"y":-14.6}]},"mark":{"type":"point","shape":"M-0.6,-1L0.6,-1L0,1Z","filled":true,"color":"#000000","size":400,"angle":327,"opacity":1},
   "encoding":{"x":{"field":"x","type":"quantitative","title":"Chromosome position (Mb)"},"y":{"field":"y","type":"quantitative","title":"Normalized expression"}}}
 ]
},
{
 "bounds":"flush",
 "spacing":20,
 "hconcat":[
  {"width":123,"height":20,"data":{"values":[{"a":1}]},"mark":{"type":"point","opacity":0},"encoding":{},"view":{"stroke":null}},
  {
   "width":360,"height":385,
   "layer":[
    {"data":{"name":"bot"},"transform":[{"filter":"isValid(datum.lo)"}],"mark":{"type":"area","clip":true,"opacity":0.3},
     "encoding":{
      "x":{"field":"p","type":"quantitative","title":"Chromosome position (Mb)","scale":{"domain":[0.368618,0.370582],"nice":false,"zero":false},"axis":{"values":[0.36875,0.369,0.36925,0.3695,0.36975,0.37,0.37025,0.3705],"labelExpr":"round(datum.value*10000) % 5 == 0 ? format(datum.value, '.4f') : ''","labelPadding":6,"titlePadding":4,"titleX":188}},
      "y":{"field":"lo","type":"quantitative","title":"Normalized expression","scale":{"type":"symlog","domain":[0,15700],"nice":false,"zero":false},"axis":{"values":[0,2.16,10,30.6,100,315,1000,3161,10000],"labelExpr":"indexof([0,10,100,1000,10000], datum.value) >= 0 ? format(datum.value, 'd') : ''","labelPadding":6,"titlePadding":13,"titleY":178,"titleFontSize":30}},
      "y2":{"field":"hi"},
      "color":{"field":"t","type":"nominal","scale":{"domain":["0","30","60","90"],"range":["#E64B35","#4DBBD5","#00A087","#3C5488"]},"legend":null}
     }},
    {"data":{"name":"bot"},"mark":{"type":"line","clip":true,"strokeWidth":1.8},
     "encoding":{
      "x":{"field":"p","type":"quantitative","title":"Chromosome position (Mb)"},
      "y":{"field":"v","type":"quantitative","title":"Normalized expression"},
      "color":{"field":"t","type":"nominal","legend":null}
     }},
    {"data":{"name":"genes"},"mark":{"type":"rect"},
     "encoding":{
      "x":{"field":"s","type":"quantitative","title":"Chromosome position (Mb)"},"x2":{"field":"e"},
      "y":{"field":"lo","type":"quantitative","title":"Normalized expression"},"y2":{"field":"hi"},
      "fill":{"field":"gene","type":"nominal","scale":{"domain":["int","xis"],"range":["#999999","#666666"]},"legend":null}
     }},
    {"data":{"name":"genes"},"mark":{"type":"text","fontStyle":"italic","fontSize":22,"font":"Liberation Sans","color":"#333333"},
     "encoding":{
      "x":{"field":"lx","type":"quantitative","title":"Chromosome position (Mb)"},
      "y":{"field":"ly","type":"quantitative","title":"Normalized expression"},
      "text":{"field":"gene"}
     }}
   ]
  }
 ]
}
]
}
